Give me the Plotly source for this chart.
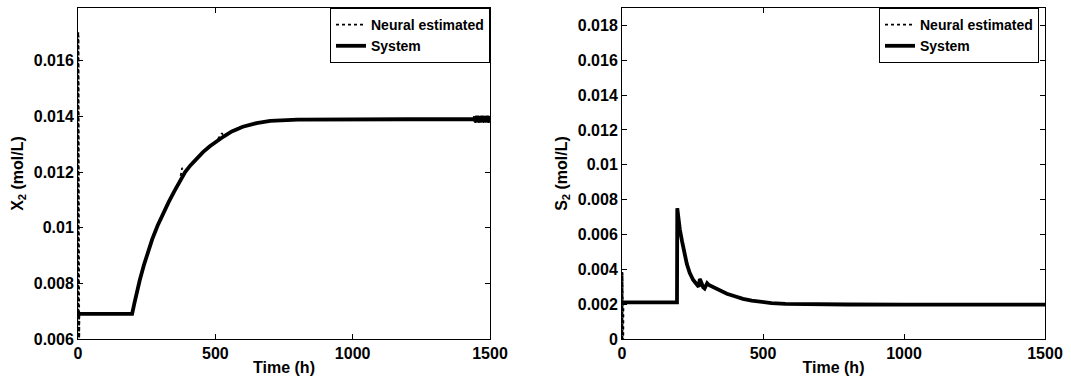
import plotly.graph_objects as go

# ---- X2 response (mol/L) ----
x2_time = [0, 197, 205, 214, 225, 240, 255, 270, 290, 310, 330, 350, 370, 390,
           410, 430, 455, 480, 505, 530, 560, 600, 650, 700, 800, 900, 1000,
           1200, 1500]
x2_system = [0.0069, 0.0069, 0.00727, 0.00768, 0.00812, 0.00866, 0.00915,
             0.00958, 0.01008, 0.01052, 0.01092, 0.01130, 0.01167, 0.01200,
             0.01225, 0.01248, 0.01272, 0.01293, 0.01312, 0.01328, 0.01346,
             0.01363, 0.01376, 0.01384, 0.01389, 0.0139, 0.0139, 0.0139,
             0.0139]

# neural estimate: initial transient, small glitches, ripple near the end
x2_nn_start_t = [0, 1, 1.5, 2, 2.5, 3, 3.5, 4, 4.5, 5]
x2_nn_start_v = [0.0170, 0.0170, 0.0055, 0.0169, 0.0055, 0.0168, 0.0056,
                 0.0167, 0.0057, 0.0069]
x2_nn_glitch_t = [306, 379, 524]
x2_nn_glitch_v = [0.01045, 0.01215, 0.01340]
x2_nn_ripple_t = [1440, 1441.5, 1443, 1444.5, 1446, 1447.5, 1449, 1450.5,
                  1452, 1453.5, 1455, 1456.5, 1458, 1459.5, 1461, 1462.5,
                  1464, 1465.5, 1467, 1468.5, 1470, 1471.5, 1473, 1474.5,
                  1476, 1477.5, 1479, 1480.5, 1482, 1483.5, 1485, 1486.5,
                  1488, 1489.5, 1491, 1492.5, 1494, 1495.5, 1497, 1498.5,
                  1500]
x2_nn_ripple_v = [0.0139, 0.01402, 0.01378, 0.01403, 0.01377, 0.01402,
                  0.01378, 0.01403, 0.01377, 0.01402, 0.01378, 0.01403,
                  0.01377, 0.01402, 0.01378, 0.01403, 0.01377, 0.01402,
                  0.01378, 0.01403, 0.01377, 0.01402, 0.01378, 0.01403,
                  0.01377, 0.01402, 0.01378, 0.01403, 0.01377, 0.01402,
                  0.01378, 0.01403, 0.01377, 0.01402, 0.01378, 0.01403,
                  0.01377, 0.01402, 0.01378, 0.01403, 0.0139]

# ---- S2 response (mol/L) ----
s2_time = [0, 195, 196, 200, 205, 213, 222, 230, 240, 252, 262, 272, 276, 280,
           288, 293, 302, 308, 320, 340, 372, 400, 429, 460, 489, 530, 580,
           650, 800, 1000, 1500]
s2_system = [0.0021, 0.0021, 0.0075, 0.0069, 0.0063, 0.0056, 0.0048, 0.0043,
             0.0038, 0.0034, 0.0032, 0.00300, 0.00345, 0.00325, 0.00297,
             0.0029, 0.0032, 0.0031, 0.00300, 0.00286, 0.0026, 0.00245,
             0.0023, 0.0022, 0.00213, 0.00206, 0.00202, 0.00199, 0.00198,
             0.00197, 0.00197]

s2_nn_start_t = [0, 1, 1.5, 2, 2.5, 3, 3.5, 4, 4.5, 5]
s2_nn_start_v = [0.0038, 0.0038, -0.0005, 0.0038, -0.0005, 0.0037, -0.0004,
                 0.0037, -0.0004, 0.0021]

time_ticks = [0, 500, 1000, 1500]
time_labels = ["0", "500", "1000", "1500"]
x2_ticks = [0.006, 0.008, 0.010, 0.012, 0.014, 0.016]
x2_labels = ["0.006", "0.008", "0.01", "0.012", "0.014", "0.016"]
s2_ticks = [0, 0.002, 0.004, 0.006, 0.008, 0.010, 0.012, 0.014, 0.016, 0.018]
s2_labels = ["0", "0.002", "0.004", "0.006", "0.008", "0.01", "0.012",
             "0.014", "0.016", "0.018"]


def merge(base_t, base_v, extra_t, extra_v, t_from=0):
    """Combine the base curve (from t_from on) with extra estimate samples."""
    pts = [(t, v) for t, v in zip(base_t, base_v) if t >= t_from]
    pts += list(zip(extra_t, extra_v))
    pts.sort(key=lambda p: p[0])
    return [p[0] for p in pts], [p[1] for p in pts]


x2_nn_t, x2_nn_v = merge(
    [t for t in x2_time if t < 1440],
    [v for t, v in zip(x2_time, x2_system) if t < 1440],
    x2_nn_start_t + x2_nn_glitch_t + x2_nn_ripple_t,
    x2_nn_start_v + x2_nn_glitch_v + x2_nn_ripple_v, t_from=100)
s2_nn_t, s2_nn_v = merge(s2_time, s2_system, s2_nn_start_t, s2_nn_start_v,
                         t_from=100)

FONT = "Liberation Sans"
W, H = 1071, 383

fig = go.Figure()


def add_pair(t_sys, v_sys, t_nn, v_nn, xa, ya, legend):
    fig.add_trace(go.Scatter(
        x=t_sys, y=v_sys, mode="lines", name="System",
        line=dict(color="black", width=3.8), legendrank=2,
        xaxis=xa, yaxis=ya, legend=legend))
    fig.add_trace(go.Scatter(
        x=t_nn, y=v_nn, mode="lines", name="Neural estimated",
        line=dict(color="black", width=1.8, dash="dot"), legendrank=1,
        xaxis=xa, yaxis=ya, legend=legend))


add_pair(x2_time, x2_system, x2_nn_t, x2_nn_v, "x", "y", "legend")
add_pair(s2_time, s2_system, s2_nn_t, s2_nn_v, "x2", "y2", "legend2")

tickfont = dict(family=FONT, size=16, color="black", weight="bold")
titlefont = dict(family=FONT, size=16, color="black", weight="bold")
legendfont = dict(family=FONT, size=14, color="black", weight="bold")


def axis_style(**kw):
    d = dict(showline=True, linecolor="black", linewidth=1, mirror="ticks",
             ticks="inside", ticklen=5, tickcolor="black", showgrid=False,
             zeroline=False, tickfont=tickfont, automargin=False,
             tickmode="array")
    d.update(kw)
    return d


ydom = [1 - 339 / H, 1 - 8 / H]

fig.update_layout(
    width=W, height=H,
    margin=dict(l=0, r=0, t=0, b=0),
    paper_bgcolor="white", plot_bgcolor="white",
    xaxis=axis_style(domain=[78 / W, 490 / W], range=[0, 1500],
                     tickvals=time_ticks, ticktext=time_labels, anchor="y",
                     title=dict(text="Time (h)", font=titlefont, standoff=0)),
    yaxis=axis_style(domain=ydom, range=[0.006, 0.0179],
                     tickvals=x2_ticks, ticktext=x2_labels, anchor="x",
                     title=dict(text="X<sub>2</sub> (mol/L)", font=titlefont,
                                standoff=6)),
    xaxis2=axis_style(domain=[622 / W, 1045 / W], range=[0, 1500],
                      tickvals=time_ticks, ticktext=time_labels, anchor="y2",
                      title=dict(text="Time (h)", font=titlefont, standoff=0)),
    yaxis2=axis_style(domain=ydom, range=[0, 0.019],
                      tickvals=s2_ticks, ticktext=s2_labels, anchor="x2",
                      title=dict(text="S<sub>2</sub> (mol/L)", font=titlefont,
                                 standoff=6)),
    legend=dict(x=490 / W, y=1 - 8 / H, xanchor="right", yanchor="top",
                bgcolor="white", bordercolor="black", borderwidth=1,
                font=legendfont, tracegroupgap=0, itemwidth=30),
    legend2=dict(x=1039 / W, y=1 - 8 / H, xanchor="right", yanchor="top",
                 bgcolor="white", bordercolor="black", borderwidth=1,
                 font=legendfont, tracegroupgap=0, itemwidth=30),
    showlegend=True,
)

fig.write_html("out.html")
